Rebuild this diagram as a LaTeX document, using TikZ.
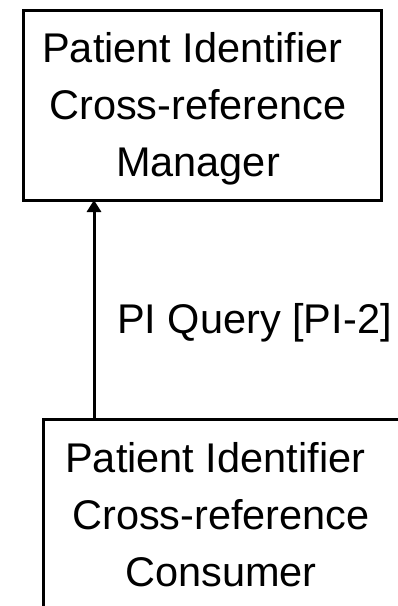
\documentclass[tikz,border=0pt]{standalone}
\usepackage{fontspec}
\setmainfont{Liberation Sans}
\usetikzlibrary{arrows.meta}
\begin{document}
\begin{tikzpicture}[x=1pt,y=-1pt,
  actorbox/.style={draw=black,line width=3pt,minimum width=358pt,minimum height=190pt,inner sep=0pt,outer sep=0pt},
  actortext/.style={align=center,anchor=base,inner sep=0pt,font=\fontsize{41.5}{57}\selectfont},
  msgtext/.style={anchor=base west,inner sep=0pt,font=\fontsize{41.5}{57}\selectfont},
  msgarrow/.style={line width=3pt,-{Triangle[width=14pt,length=12pt]}}]
  \useasboundingbox (0,0) rectangle (398,606);
  \clip (0,0) rectangle (398,606);
  % actors (text placed by the baseline of its last line)
  \node[actorbox] (mgr) at (202,105) {};
  \node[actortext] (mgrtext) at (198,176.7) {Patient Identifier\hspace*{0.278em}\\Cross-reference\\Manager};
  \node[actorbox] (cons) at (222,514) {};
  \node[actortext] (constext) at (221,586.7) {Patient Identifier\hspace*{0.278em}\\Cross-reference\\Consumer};
  % transaction
  \coordinate (ax) at (94,300);
  \draw[msgarrow] (cons.north -| ax) -- (mgr.south -| ax);
  \node[msgtext] (query) at (117,333) {PI Query [PI-2]};
\end{tikzpicture}
\end{document}
